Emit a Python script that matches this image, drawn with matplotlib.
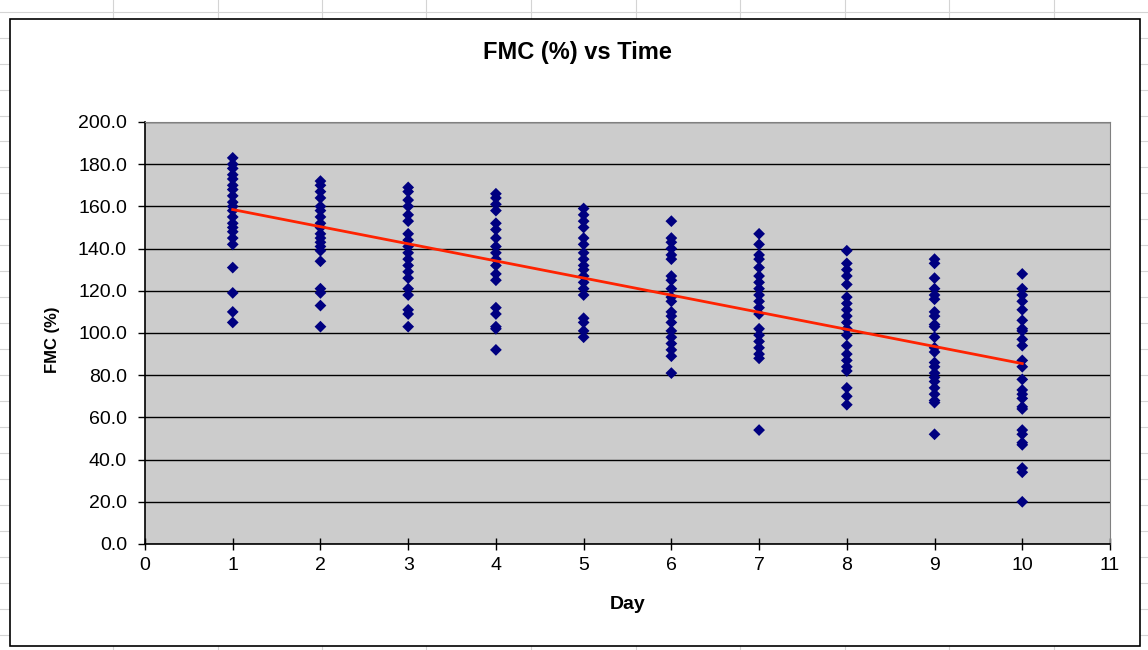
import numpy as np
import matplotlib
matplotlib.use("Agg")
import matplotlib.pyplot as plt
from matplotlib.lines import Line2D
from matplotlib.patches import Rectangle

plt.rcParams['font.family'] = ['Liberation Sans', 'DejaVu Sans']

# FMC (%) readings per day
day1 = [183, 180, 178, 175, 173, 170, 168, 165, 162, 160, 158, 155, 152, 150,
        148, 145, 142, 131, 119, 110, 105]
day2 = [172, 170, 167, 164, 160, 158, 155, 152, 150, 147, 145, 143, 141, 139,
        134, 121, 119, 113, 103]
day3 = [169, 167, 163, 160, 156, 153, 147, 144, 141, 138, 135, 132, 129, 126,
        121, 118, 111, 109, 103]
day4 = [166, 164, 161, 158, 152, 149, 145, 141, 138, 135, 132, 128, 125, 112,
        109, 103, 102, 92]
day5 = [159, 156, 153, 150, 145, 142, 138, 135, 132, 130, 127, 124, 121, 118,
        107, 105, 101, 98]
day6 = [153, 145, 143, 140, 137, 135, 127, 125, 121, 117, 115, 110, 108, 105,
        101, 98, 95, 92, 89, 81]
day7 = [147, 142, 137, 135, 131, 127, 124, 121, 118, 115, 112, 109, 102, 99,
        96, 93, 90, 88, 54]
day8 = [139, 133, 130, 127, 123, 117, 114, 111, 108, 105, 102, 99, 94, 90,
        87, 84, 82, 74, 70, 66]
day9 = [135, 133, 126, 121, 118, 116, 110, 108, 104, 103, 98, 93, 91, 86,
        84, 81, 79, 77, 74, 71, 68, 67, 52]
day10 = [128, 121, 118, 115, 111, 106, 102, 101, 97, 94, 87, 84, 78, 73,
         71, 69, 65, 64, 54, 52, 48, 47, 36, 34, 20]

days = [1, 2, 3, 4, 5, 6, 7, 8, 9, 10]
fmc = [day1, day2, day3, day4, day5, day6, day7, day8, day9, day10]

# linear trendline as drawn on the chart (Excel fit), ends
trend_days = [1, 10]
trend_fmc = [158.5, 85.5]

x = np.concatenate([[d] * len(v) for d, v in zip(days, fmc)])
y = np.concatenate(fmc).astype(float)

W, H = 1148, 650
fig = plt.figure(figsize=(W / 100, H / 100), dpi=100)
fig.patch.set_facecolor('white')

# spreadsheet cell grid behind the chart
for xc in np.arange(113, W, 104.5):
    fig.add_artist(Line2D([xc / W, xc / W], [0, 1], color='#d4d4d4', lw=0.8, zorder=0))
for yc in np.arange(11.7, H, 25.95):
    fig.add_artist(Line2D([0, 1], [1 - yc / H, 1 - yc / H], color='#d4d4d4', lw=0.8, zorder=0))

# chart area
x0, y0 = 10 / W, 1 - 646 / H
x1, y1 = 1140 / W, 1 - 19 / H
fig.add_artist(Rectangle((x0, y0), x1 - x0, y1 - y0, transform=fig.transFigure,
                         facecolor='white', edgecolor='black', lw=1.2, zorder=1))

ax = fig.add_axes([145 / W, 1 - 544 / H, (1110 - 145) / W, (544 - 122) / H], zorder=2)
ax.set_facecolor('#cccccc')

ax.scatter(x, y, marker='D', s=36, color='#000080', edgecolors='none', zorder=3)
ax.plot(trend_days, trend_fmc, color='#ff2200', lw=2.0, zorder=4)

ax.set_xlim(0, 11)
ax.set_ylim(0, 200)
ax.set_xticks(range(0, 12))
ax.set_yticks(np.arange(0, 201, 20))
ax.set_yticklabels([f'{v:.1f}' for v in np.arange(0, 201, 20)])
ax.yaxis.grid(True, color='black', lw=1.0)
ax.set_axisbelow(True)
ax.tick_params(axis='both', labelsize=14, length=5, width=1, color='black')
ax.tick_params(axis='x', direction='inout', length=8, pad=5)
ax.tick_params(axis='y', direction='out', pad=8)

for s in ['top', 'right']:
    ax.spines[s].set_color('#808080')
for s in ['left', 'bottom']:
    ax.spines[s].set_color('black')
    ax.spines[s].set_linewidth(1.2)

fig.text(577 / W, 1 - 52 / H, 'FMC (%) vs Time', fontsize=17, fontweight='bold',
         ha='center', va='center')
ax.set_xlabel('Day', fontsize=14, fontweight='bold', labelpad=16)
fig.text(52 / W, 1 - 340 / H, 'FMC (%)', fontsize=12, fontweight='bold',
         rotation=90, ha='center', va='center')

fig.savefig('out.png', dpi=100)
